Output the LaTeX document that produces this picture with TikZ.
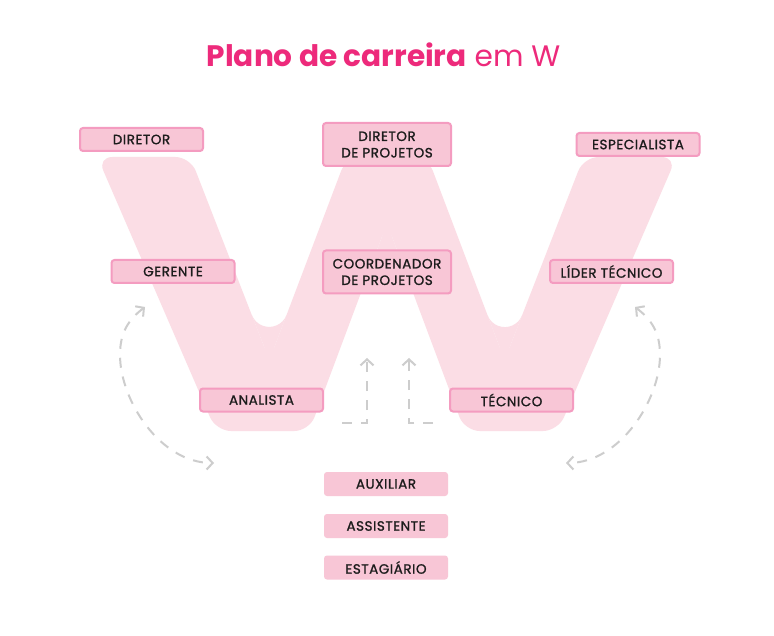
\documentclass[tikz,border=0pt]{standalone}
\usepackage{fontspec}
\setmainfont{Poppins}
\newfontfamily\labelfont{Poppins}[FakeBold=1.2,LetterSpace=4]
\usetikzlibrary{arrows.meta}
\definecolor{wpink}{HTML}{FBDDE5}
\definecolor{boxfill}{HTML}{F8C6D6}
\definecolor{boxline}{HTML}{F49CC0}
\definecolor{titlepink}{HTML}{ED2A7B}
\definecolor{txt}{HTML}{1C1C1C}
\definecolor{dashgray}{HTML}{CDCDCD}
\tikzset{
  role/.style={draw=boxline, line width=2pt, fill=boxfill, rounded corners=3pt,
    minimum width=123pt, minimum height=23pt, inner sep=0pt, text=txt,
    font=\labelfont\fontsize{13.5}{16.5}\selectfont, align=center},
  rolewide/.style={role, minimum width=128pt, minimum height=43pt},
  roleplain/.style={fill=boxfill, rounded corners=3pt, minimum width=124pt,
    minimum height=24pt, inner sep=0pt, text=txt,
    font=\labelfont\fontsize{13.5}{16.5}\selectfont},
  flowline/.style={draw=dashgray, line width=2pt, dash pattern=on 10pt off 9pt},
  flowup/.style={flowline, -{Straight Barb[length=6pt,width=13pt]}},
  flowboth/.style={flowline, {Straight Barb[length=6pt,width=13pt]}-{Straight Barb[length=6pt,width=13pt]}}
}
\begin{document}
\begin{tikzpicture}[x=1pt,y=1pt]
\useasboundingbox (0,0) rectangle (774,-636);
\fill[white] (0,0) rectangle (774,-636);

% the W
\fill[wpink, rounded corners=15pt]
 (97.4,-157) -- (190.3,-157) -- (269.4,-360.3) -- (346.4,-157) -- (427.6,-157)
 -- (504.6,-360.3) -- (583.7,-157) -- (676.6,-157) -- (558,-431) -- (464.7,-431)
 -- (387,-223.2) -- (309.3,-431) -- (216,-431) -- cycle;
% rounded inner corners of the W
\fill[wpink] (251.84,-315.19) -- (269.4,-360.3) -- (286.54,-315.04)
 arc[start angle=338.8,end angle=201.1,radius=18.6] -- cycle;
\fill[wpink] (487.46,-315.04) -- (504.6,-360.3) -- (522.16,-315.19)
 arc[start angle=338.9,end angle=201.2,radius=18.6] -- cycle;
\fill[wpink] (404.41,-269.75) -- (387,-223.2) -- (369.59,-269.75)
 arc[start angle=159.4,end angle=20.6,radius=18.6] -- cycle;

% title
\node[anchor=base, text=titlepink, inner sep=0pt, font=\fontsize{29.6}{34}\selectfont]
  (title) at (383.5,-67) {\textbf{Plano de carreira} em W};

% dashed arrows
\coordinate (l1) at (145,-307);
\coordinate (l2) at (120,-355);
\coordinate (l3) at (214,-463);
\draw[flowboth] (l1) .. controls (128,-320) and (120,-333) .. (l2)
  .. controls (120,-400) and (160,-463) .. (l3);
\coordinate (r1) at (635,-307);
\coordinate (r2) at (660,-355);
\coordinate (r3) at (566,-463);
\draw[flowboth] (r1) .. controls (652,-320) and (660,-333) .. (r2)
  .. controls (660,-400) and (620,-463) .. (r3);
\coordinate (m1s) at (342,-423);
\coordinate (m1c) at (367,-423);
\coordinate (m1e) at (367,-358);
\draw[flowup] (m1s) -- (m1c) -- (m1e);
\coordinate (m2s) at (433,-423);
\coordinate (m2c) at (409,-423);
\coordinate (m2e) at (409,-358);
\draw[flowup] (m2s) -- (m2c) -- (m2e);

% roles
\node[role] (diretor) at (141.5,-139.5) {DIRETOR};
\node[rolewide] (dirproj) at (387,-144.5) {DIRETOR\\DE PROJETOS};
\node[role] (espec) at (638,-144.5) {ESPECIALISTA};
\node[role] (gerente) at (173,-271.5) {GERENTE};
\node[rolewide] (coord) at (387,-272) {COORDENADOR\\DE PROJETOS};
\node[role] (lider) at (611.5,-271.5) {LÍDER TÉCNICO};
\node[role] (analista) at (261.5,-400) {ANALISTA};
\node[role] (tecnico) at (511.5,-400) {TÉCNICO};
\node[roleplain] (auxiliar) at (386,-484) {AUXILIAR};
\node[roleplain] (assist) at (386,-526) {ASSISTENTE};
\node[roleplain] (estag) at (386,-567.5) {ESTAGIÁRIO};
\end{tikzpicture}
\end{document}
